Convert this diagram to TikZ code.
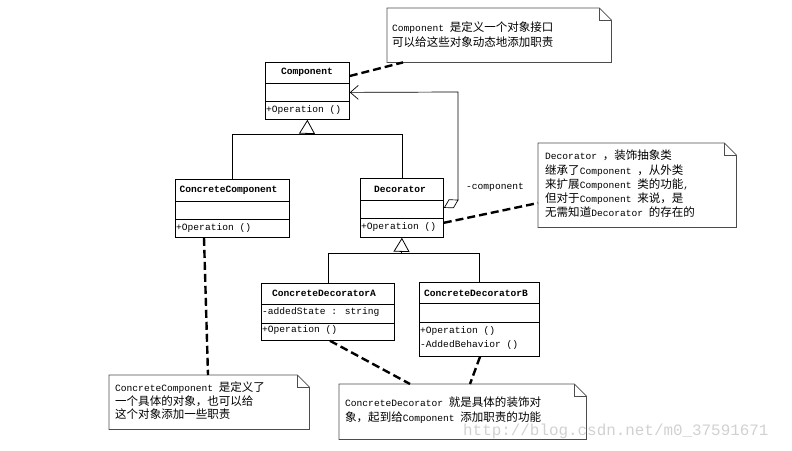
\documentclass[tikz,border=0pt]{standalone}
\usepackage{fontspec}
\setmainfont{Liberation Mono}
\newfontfamily\cjk[Scale=1.2]{Noto Sans CJK SC}
\newcommand\zhtxt[1]{{\cjk #1}}
\usetikzlibrary{arrows.meta}
\begin{document}
\begin{tikzpicture}[x=1pt,y=-1pt,
  clsbox/.style={draw, line width=0.8pt, inner sep=0pt, anchor=north west},
  clsline/.style={line width=0.8pt},
  clsname/.style={font=\fontsize{9.6}{12}\selectfont\bfseries, inner sep=0pt},
  optext/.style={font=\fontsize{9.6}{12}\selectfont, inner sep=0pt, anchor=west},
  notebox/.style={draw=none, inner sep=0pt, anchor=north west},
  noteline/.style={draw=black!70, line width=0.7pt},
  notetext/.style={font=\fontsize{9.6}{14}\selectfont, align=left, inner sep=0pt, anchor=north west},
  dashlink/.style={line width=2.4pt, dash pattern=on 8pt off 4pt},
  gen/.style={clsline, -{Triangle[open, length=14pt, width=16pt]}},
]
\useasboundingbox (0,0) rectangle (792,450);

% ---------- classes ----------
\node[clsbox, minimum width=84pt, minimum height=57pt] (comp) at (265,62) {};
\draw[clsline] ([yshift=-21pt]comp.north west) -- ([yshift=-21pt]comp.north east);
\draw[clsline] ([yshift=-39pt]comp.north west) -- ([yshift=-39pt]comp.north east);
\node[clsname] (compname) at (307,72.5) {Component};
\node[optext] (compop) at (266,110) {+Operation ()};

\node[clsbox, minimum width=114pt, minimum height=58pt] (cc) at (175,179) {};
\draw[clsline] ([yshift=-22pt]cc.north west) -- ([yshift=-22pt]cc.north east);
\draw[clsline] ([yshift=-40pt]cc.north west) -- ([yshift=-40pt]cc.north east);
\node[clsname] (ccname) at (228.5,190) {ConcreteComponent};
\node[optext] (ccop) at (176,228) {+Operation ()};

\node[clsbox, minimum width=83pt, minimum height=59pt] (dec) at (360,178) {};
\draw[clsline] ([yshift=-22pt]dec.north west) -- ([yshift=-22pt]dec.north east);
\draw[clsline] ([yshift=-40pt]dec.north west) -- ([yshift=-40pt]dec.north east);
\node[clsname] (decname) at (400,189) {Decorator};
\node[optext] (decop) at (361,227) {+Operation ()};

\node[clsbox, minimum width=133pt, minimum height=57pt] (cda) at (261,283) {};
\draw[clsline] ([yshift=-21pt]cda.north west) -- ([yshift=-21pt]cda.north east);
\draw[clsline] ([yshift=-40pt]cda.north west) -- ([yshift=-40pt]cda.north east);
\node[clsname] (cdaname) at (324,293) {ConcreteDecoratorA};
\node[optext] (cdaattr) at (262,312) {-addedState : string};
\node[optext] (cdaop) at (262,330) {+Operation ()};

\node[clsbox, minimum width=120pt, minimum height=74pt] (cdb) at (419,282) {};
\draw[clsline] ([yshift=-21pt]cdb.north west) -- ([yshift=-21pt]cdb.north east);
\draw[clsline] ([yshift=-40pt]cdb.north west) -- ([yshift=-40pt]cdb.north east);
\node[clsname] (cdbname) at (476,293) {ConcreteDecoratorB};
\node[optext] (cdbop1) at (420,331) {+Operation ()};
\node[optext] (cdbop2) at (420,345) {-AddedBehavior ()};

% ---------- generalizations ----------
\coordinate (g1) at (307,134);
\draw[gen] (g1) -- (comp.south);
\draw[clsline] (cc.north) -- (cc.north |- g1) -- (dec.north |- g1) -- (dec.north);
\coordinate (g2) at (401.5,253);
\draw[gen] (g2) -- (dec.south);
\draw[clsline] (cda.north) -- (cda.north |- g2) -- (cdb.north |- g2) -- (cdb.north);

% ---------- aggregation ----------
\coordinate (aggturn) at (458,200);
\draw[clsline, line width=0.7pt, {Diamond[open, length=17pt, width=10pt]}-{Straight Barb[length=8pt, width=14pt]}]
  (dec.east) -- (aggturn) -- (aggturn |- 0,92) -- ([yshift=-1.5pt]comp.east);
\node[optext] (rolelbl) at (466,187) {-component};

% ---------- notes ----------
\newcommand\notepath[2]{%
  \draw[noteline] (#1.north west) -- ([xshift=-#2]#1.north east) -- ([yshift=-#2]#1.north east)
     -- (#1.south east) -- (#1.south west) -- cycle;
  \draw[noteline] ([xshift=-#2]#1.north east) -- ([xshift=-#2,yshift=-#2]#1.north east) -- ([yshift=-#2]#1.north east);}

\node[notebox, minimum width=224pt, minimum height=54pt] (n1) at (387,8) {};
\notepath{n1}{12pt}
\node[notetext, font=\fontsize{9.6}{15}\selectfont] (n1txt) at (392,22)
  {Component \zhtxt{是定义一个对象接口}\\\zhtxt{可以给这些对象动态地添加职责}};

\node[notebox, minimum width=198pt, minimum height=84pt] (ndec) at (538,143) {};
\notepath{ndec}{12pt}
\node[notetext, font=\fontsize{9.6}{14.2}\selectfont] (ndectxt) at (545,150)
  {Decorator \zhtxt{，装饰抽象类}\\
   \zhtxt{继承了}Component \zhtxt{，从外类}\\
   \zhtxt{来扩展}Component \zhtxt{类的功能},\\
   \zhtxt{但对于}Component \zhtxt{来说，是}\\
   \zhtxt{无需知道}Decorator \zhtxt{的存在的}};

\node[notebox, minimum width=200pt, minimum height=54pt] (ncc) at (109,375) {};
\notepath{ncc}{12pt}
\node[notetext, font=\fontsize{9.6}{13.5}\selectfont] (ncctxt) at (115,382)
  {ConcreteComponent \zhtxt{是定义了}\\
   \zhtxt{一个具体的对象，也可以给}\\
   \zhtxt{这个对象添加一些职责}};

\node[notebox, minimum width=247pt, minimum height=55pt] (ncd) at (339,384) {};
\notepath{ncd}{12pt}
\node[notetext, font=\fontsize{9.6}{15}\selectfont] (ncdtxt) at (345,397)
  {ConcreteDecorator \zhtxt{就是具体的装饰对}\\
   \zhtxt{象，起到给}Component \zhtxt{添加职责的功能}};

% ---------- note links ----------
\draw[dashlink] ([yshift=-14pt]comp.north east) -- ([xshift=16pt]n1.south west);
\draw[dashlink] ([xshift=29pt]cc.south west) -- ([xshift=99pt]ncc.north west);
\draw[dashlink] ([yshift=15pt]dec.south east) -- ([yshift=-60pt]ndec.north west);
\draw[dashlink] ([xshift=69pt]cda.south west) -- ([xshift=71pt]ncd.north west);
\draw[dashlink] ([xshift=61pt]cdb.south west) -- ([xshift=131pt]ncd.north west);

% ---------- watermark ----------
\node[font=\fontsize{15.9}{18}\selectfont, text=black!18, inner sep=0pt, anchor=west] (wm) at (463,431)
  {http://blog.csdn.net/m0\_37591671};
\end{tikzpicture}
\end{document}
